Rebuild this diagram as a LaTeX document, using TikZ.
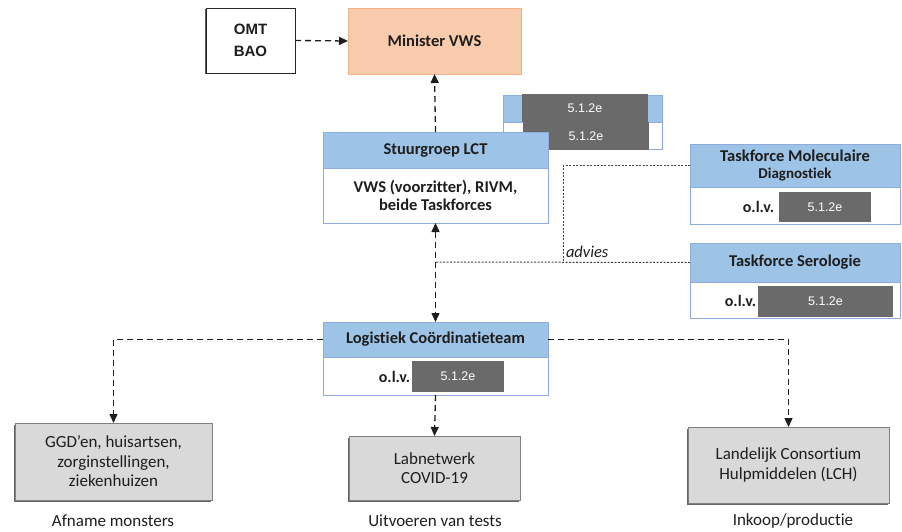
\documentclass[tikz,border=0pt]{standalone}
\usepackage{fontspec}
\setmainfont{Carlito}[Ligatures={NoCommon}]
\newfontfamily\arialf{Liberation Sans}
\usetikzlibrary{arrows.meta,shadows}
\definecolor{hdrblue}{HTML}{9DC3E6}
\definecolor{bordblue}{HTML}{8FAADC}
\definecolor{peach}{HTML}{F8CBAD}
\definecolor{peachb}{HTML}{F4B183}
\definecolor{boxgray}{HTML}{D9D9D9}
\definecolor{boxgrayb}{HTML}{808080}
\definecolor{redact}{HTML}{6A6A6A}
\definecolor{txt}{HTML}{1E1E1E}
\tikzset{
  base/.style={inner sep=0pt, outer sep=0pt, align=center, text=txt},
  hdr/.style={base, draw=bordblue, fill=hdrblue, line width=0.9pt,
    font=\bfseries\fontsize{16.5}{19}\selectfont},
  body/.style={base, draw=bordblue, fill=white, line width=0.9pt,
    font=\bfseries\fontsize{16.5}{18}\selectfont},
  graybox/.style={base, draw=boxgrayb, fill=boxgray, line width=0.9pt,
    drop shadow={shadow xshift=-1.2pt, shadow yshift=-1.5pt, fill=black!60, opacity=1},
    font=\fontsize{17}{19.5}\selectfont},
  redbox/.style={base, fill=redact, text=white, font=\arialf\fontsize{12.5}{14}\selectfont},
  lbl/.style={base, font=\fontsize{17}{19}\selectfont},
  olv/.style={base, font=\bfseries\fontsize{16}{18}\selectfont},
  conn/.style={draw=txt, line width=1.3pt, dash pattern=on 6pt off 4pt,
    -{Triangle[length=9pt,width=8pt]}},
  conn2/.style={draw=txt, line width=1.3pt, dash pattern=on 6pt off 4pt,
    {Triangle[length=9pt,width=8pt]}-{Triangle[length=9pt,width=8pt]}},
  adv/.style={draw=txt!85, line width=1pt, dash pattern=on 2pt off 1.5pt},
}
\begin{document}
\begin{tikzpicture}[x=1pt,y=-1pt]
\useasboundingbox (0,0) rectangle (902,532);

% top
\node[base, draw=black!85, line width=0.9pt, fill=white,
  drop shadow={shadow xshift=-1.2pt, shadow yshift=-1.5pt, fill=black!65, opacity=1},
  minimum width=89pt, minimum height=65pt,
  font=\arialf\bfseries\fontsize{15}{22}\selectfont] (omt) at (250.5,40.5) {OMT\\BAO};
\node[base, draw=peachb, fill=peach, line width=0.9pt, minimum width=173pt, minimum height=66pt,
  font=\bfseries\fontsize{16.5}{19}\selectfont] (min) at (434.5,41) {Minister VWS};

% redacted box
\node[hdr, minimum width=159pt, minimum height=27pt] (rh) at (582.5,108.5) {};
\node[body, minimum width=159pt, minimum height=27pt] (rb) at (582.5,135.5) {};
\node[redbox, minimum width=126pt, minimum height=28pt] (r1) at (585,108) {5.1.2e};
\node[redbox, minimum width=126pt, minimum height=28pt] (r2) at (586,136) {5.1.2e};

% Stuurgroep
\node[hdr, minimum width=225pt, minimum height=36pt] (sgh) at (435.5,150) {Stuurgroep LCT};
\node[body, minimum width=225pt, minimum height=55pt] (sgb) at (435.5,195.5) {VWS (voorzitter), RIVM,\\beide Taskforces};

% Taskforce Moleculaire
\node[hdr, minimum width=210pt, minimum height=43pt] (molh) at (795,165.5)
  {Taskforce Moleculaire\\[-2pt]{\fontsize{15}{17}\selectfont Diagnostiek}};
\node[body, minimum width=210pt, minimum height=37pt] (molb) at (795,205.5) {};
\node[olv] (molo) at (758.5,207) {o.l.v.};
\node[redbox, minimum width=92pt, minimum height=30pt] (molr) at (825,207) {5.1.2e};

% Taskforce Serologie
\node[hdr, minimum width=210pt, minimum height=39pt] (serh) at (795,262.5) {Taskforce Serologie};
\node[body, minimum width=210pt, minimum height=36pt] (serb) at (795,300) {};
\node[olv] (sero) at (740.5,301) {o.l.v.};
\node[redbox, minimum width=135pt, minimum height=31pt] (serr) at (825.5,301.5) {5.1.2e};

% LCT
\node[hdr, minimum width=225pt, minimum height=35pt] (lcth) at (435.5,339.5) {Logistiek Coördinatieteam};
\node[body, minimum width=225pt, minimum height=38pt] (lctb) at (435.5,376) {};
\node[olv] (lcto) at (394.5,377) {o.l.v.};
\node[redbox, minimum width=92pt, minimum height=31pt] (lctr) at (458,376.5) {5.1.2e};

% bottom boxes
\node[graybox, minimum width=197pt, minimum height=77pt] (ggd) at (113.5,461.5)
  {GGD’en, huisartsen,\\zorginstellingen,\\ziekenhuizen};
\node[graybox, minimum width=171pt, minimum height=64pt] (lab) at (434.5,468)
  {Labnetwerk\\COVID-19};
\node[graybox, minimum width=201pt, minimum height=76pt] (lch) at (788.5,465)
  {Landelijk Consortium\\Hulpmiddelen (LCH)};

\node[lbl] (l1) at (113,521) {Afname monsters};
\node[lbl] (l2) at (435,521) {Uitvoeren van tests};
\node[lbl] (l3) at (793,521) {Inkoop/productie};

% connectors
\draw[conn] (omt.east) -- (min.west);
\draw[conn] (sgh.north) -- (min.south);
\draw[conn2] (sgb.south) -- (lcth.north);
\draw[conn] (lcth.west) -| (ggd.north);
\draw[conn] (lcth.east) -| (lch.north);
\draw[conn] (lctb.south) -- (lab.north);

% advies
\coordinate (bend) at (563,262);
\coordinate (join) at (435,262);
\draw[adv] (molh.west) -| (bend);
\draw[adv] (serh.west) -- (join);
\node[base, font=\itshape\fontsize{16.5}{18}\selectfont, anchor=south west] (advies) at (566,258) {advies};
\end{tikzpicture}
\end{document}
